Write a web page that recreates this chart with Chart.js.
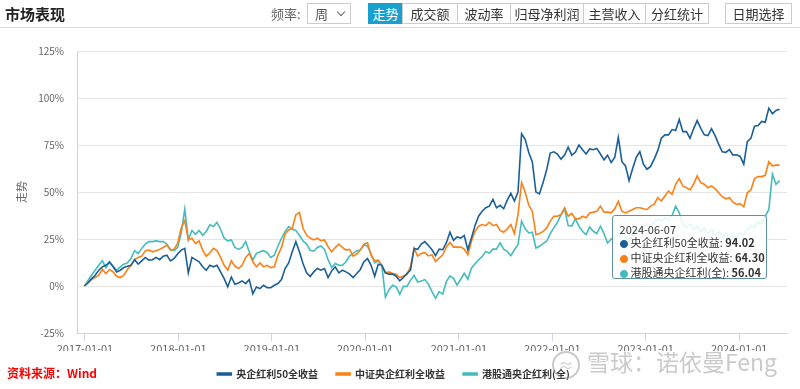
<!DOCTYPE html>
<html>
<head>
<meta charset="utf-8">
<script src="https://cdn.jsdelivr.net/npm/chart.js@4.4.0/dist/chart.umd.min.js"></script>
<style>
html,body{margin:0;padding:0;background:#fff;}
body{width:800px;height:389px;position:relative;overflow:hidden;font-family:"Noto Sans CJK SC","Noto Sans",sans-serif;}
#c{position:absolute;left:0;top:0;}
.hd{position:absolute;left:0;top:0;width:800px;height:27px;border-bottom:1px solid #dcdcdc;}
.ttl{position:absolute;left:5px;top:4px;font-size:15px;font-weight:bold;color:#222;line-height:20px;}
.lbl{position:absolute;left:271px;top:4px;font-size:13px;color:#666;line-height:20px;}
.sel{position:absolute;left:307px;top:3px;width:44px;height:21px;box-sizing:border-box;border:1px solid #ccc;font-size:13px;color:#555;line-height:19px;padding-left:7px;}
.sel i{position:absolute;left:30px;top:5px;width:5px;height:5px;border-right:1px solid #666;border-bottom:1px solid #666;transform:rotate(45deg);}
.btn{position:absolute;top:3px;height:21px;box-sizing:border-box;border:1px solid #ccc;font-size:13px;color:#333;line-height:19px;text-align:center;background:#fff;}
.btn.on{background:#1aa0cf;border-color:#1aa0cf;color:#fff;}
.src{position:absolute;left:7px;top:364px;font-size:12px;font-weight:bold;color:#f00;line-height:18px;}
.wm{position:absolute;left:552px;top:346px;height:30px;color:rgba(150,150,150,0.5);font-size:23px;line-height:30px;white-space:nowrap;}
.wm .ic{display:inline-block;width:24px;height:24px;border:2px solid rgba(150,150,150,0.5);border-radius:50%;vertical-align:middle;margin-right:7px;font-size:15px;line-height:23px;text-align:center;}
#tip{position:absolute;display:none;width:155px;height:64px;box-sizing:border-box;background:rgba(255,255,255,0.86);border:1px solid #5f8fa3;border-radius:3px;padding:7px 0 0 7px;font-size:11px;color:#333;line-height:12.6px;white-space:nowrap;}
#tip .row{margin-top:0.5px;}
#tip .dot{display:inline-block;width:7px;font-size:9px;margin:0 4px 0 0;}
</style>
</head>
<body>
<canvas id="c" width="800" height="389"></canvas>
<div class="hd">
  <div class="ttl">市场表现</div>
  <div class="lbl">频率:</div>
  <div class="sel">周<i></i></div>
  <div class="btn on" style="left:368px;width:35px;">走势</div>
  <div class="btn" style="left:402px;width:56px;">成交额</div>
  <div class="btn" style="left:457px;width:54px;">波动率</div>
  <div class="btn" style="left:510px;width:74px;">归母净利润</div>
  <div class="btn" style="left:583px;width:63px;">主营收入</div>
  <div class="btn" style="left:645px;width:64px;">分红统计</div>
  <div class="btn" style="left:725px;width:67px;">日期选择</div>
</div>
<div class="src">资料来源：Wind</div>
<div class="wm"><span class="ic">≈</span>雪球：诺依曼Feng</div>
<div id="tip"></div>
<script>
// 三条全收益曲线，两周取一个点（2016-12-30 起）
const seriesNames = ['央企红利50全收益', '中证央企红利全收益', '港股通央企红利(全)'];
const seriesColors = ['#1b5f97', '#fb8117', '#45bcbc'];
const startDate = '2016-12-30';
const stepDays = 14;
const tickLabels = ['2017-01-01','2018-01-01','2019-01-01','2020-01-01','2021-01-01','2022-01-01','2023-01-01','2024-01-01'];
const xMinDate = '2016-12-01';
const xMaxDate = '2024-07-06';

const yangqi50 = [
  0,1.6,3.9,5.7,8.4,10.2,11,12.7,10.2,7.5,8.4,9.8,10.5,11,14,11.6,13.4,15.2,13.8,14,
  15.2,14,15.9,16.4,13.4,14.6,17,19.1,20,7,15.2,14,12.9,10.2,8.4,11,10.2,11,7.5,3.9,
  -0.5,4.8,0.9,1.6,2.7,1.3,3.4,-4.1,-0.5,-1.4,0.4,-0.9,-0.9,0.4,1.3,3.4,9.3,12.3,18.2,23.6,
  18.2,12,7,5,7.5,9.3,8.4,9.3,4.5,8,10.2,7,8.4,7.5,6.3,4.5,6.6,8.8,12.9,14.6,
  11,5.2,11.6,11,7,6.3,6.3,5.2,2.7,4.5,6.6,8.4,20,19.5,22.3,23.6,21.5,19.3,16.1,19.6,
  19.3,22.9,28.6,24.3,26.1,25.5,26.8,19.3,25.5,32.1,37.1,39.8,41.6,42.5,46.1,41.6,42.9,41.1,45.7,49.3,
  45.2,50,81,78,71,66,50,49,55,61.8,70.7,71.4,70.2,67.5,69.6,73.8,69.6,71.1,75,72.5,
  70.2,72.9,72.5,73.2,70.2,67.1,69.6,65.7,68.4,79,66.1,63.9,56,62.5,68.4,71.4,64.8,62.1,63.6,67.5,
  72,78.6,80.4,80.4,83.2,82.7,88.6,82.1,82.1,78.6,83.6,88,83.9,80.4,80,83.6,80,75.5,71.4,71.1,
  72.5,69.6,69.8,68.9,64.8,76.8,78.6,85,85.4,87.5,87.1,94.6,91.6,93.4,94.02
];
const zzyq = [
  0,2,3.4,4.5,5.7,8.8,6.6,8.8,7.5,5.2,4.5,5.7,8.8,11,14,15.2,15.9,18.8,19.1,18.2,
  18.8,19.5,20.5,21.8,19.1,19.5,22.7,30.7,34.8,24.5,25.4,22.5,24,19.1,15.9,17.7,20,18.8,15.2,11,
  8.4,13.4,10.5,9.3,11,15.2,17.3,12.9,10.2,12.3,10.2,11,9.8,10.2,16.4,20.5,27.7,29.8,30.7,37.9,
  39.1,30.7,27.1,25.5,24.5,25.4,24.1,24.5,20.9,18.2,20.5,22.3,20.5,19.1,19.5,15.9,17,19.1,22.3,23,
  16.4,13.4,13.8,11,7,7.5,6.6,6.3,4.5,5.2,6.3,10.2,20,15.9,17.3,17.7,16,16.6,13,14.8,
  16.6,20.7,23.2,20.7,20.7,20.7,19.6,16.6,23.8,29.1,31.8,32.7,32.1,33.9,32.1,32.7,29.6,28.6,30.4,32.7,
  27.9,38,55,50,43,39.8,27.3,27.9,29,30.9,34.5,37.1,37.1,38,41.6,37.1,38.6,35.7,35.7,37.1,
  36.3,38.9,39.3,39.8,42.5,39.3,39.3,38.9,41.1,45,39.8,38.9,39.8,40.7,41.6,41.6,41.1,40.7,42.5,43.4,
  47,45.2,47.9,50.5,48.8,54.1,57.1,53.2,52.3,51.1,54.1,58.6,55,54.1,52.3,53.2,51.8,49.6,47.5,46.4,
  47,44.6,43.4,43.8,42.1,49.6,51.1,57.1,58.2,58.2,58.9,66.1,63.9,64.3,64.3
];
const ggtyq = [
  0,3,5.7,8.4,11,13.4,9.8,12.9,10.5,8.4,10.2,11.6,12.3,14.6,18.8,17.3,20,22.3,23.6,23.6,
  24,23.6,23.6,22.3,19.5,18.8,20.5,28,40.9,24.5,29.5,27.5,29.5,27,29,32.5,31.6,33.8,30.2,25.4,
  24,24.5,20.5,19.5,20.5,23.6,18.2,13.8,17.3,18.2,18.8,17.7,15.2,16.4,21.3,25.4,29,31.6,30.2,29.5,
  27,24,22.3,19,18.5,20.5,21.3,19.5,14,9.8,12,11,11,12.9,15.9,17.3,18.8,19.1,21.8,21.3,
  17,12.3,13.4,11,-5.9,-2,0.4,-0.5,-4.5,-0.2,-0.2,3,5.7,2.1,2.7,3.4,1,-3,-6.6,-3,
  -4.3,2.3,5.4,4.1,0.5,3.6,6.8,3.6,9.5,11.8,13.9,15.7,18.4,17.5,19.6,19.6,22.9,19.6,18.4,16.1,
  19.3,22,34.5,30.4,28.2,28.6,20.2,21.1,22.5,23.8,27.9,30.9,33.9,38,41,32.1,31.8,35.7,31.8,29.1,
  27.3,31.4,29.1,27.9,31.8,27.9,22.9,25,26.4,27,29,26,24,27,30,29,31,33,32,34,
  35.7,34.5,36.3,35,37.5,42.5,38.9,32.7,31,33,30,32,29,31,28,30,27,29,26,28,
  25,27,26,28,27,30,32,31,34,33,37,40.7,59.5,54.1,56.04
];

const DAY = 86400000;
const dayNum = s => Date.parse(s + 'T00:00:00Z') / DAY;
const fmtDay = n => new Date(Math.round(n) * DAY).toISOString().slice(0, 10);
const x0 = dayNum(startDate);
const dates = yangqi50.map((_, i) => fmtDay(x0 + i * stepDays));

const font = '"Noto Sans CJK SC","Noto Sans",sans-serif';
Chart.defaults.font.family = font;

function toPoints(vals){
  return vals.map((v, i) => ({ x: dayNum(dates[i]), y: v }));
}

function drawTip(context){
  const tip = context.tooltip;
  const box = document.getElementById('tip');
  if(!tip || tip.opacity === 0 || !tip.dataPoints){ box.style.display = 'none'; return; }
  let html = `<div>${dates[tip.dataPoints[0].dataIndex]}</div>`;
  tip.dataPoints.forEach(dp => {
    html += `<div class="row"><span class="dot" style="color:${seriesColors[dp.datasetIndex]}">●</span>${dp.dataset.label}: <b>${dp.raw.y.toFixed(2)}</b></div>`;
  });
  box.innerHTML = html;
  box.style.display = 'block';
  box.style.left = (tip.caretX - 13 - 155) + 'px';
  box.style.top = (context.chart.chartArea.top + 164) + 'px';
}

const allSeries = [yangqi50, zzyq, ggtyq];

const chart = new Chart(document.getElementById('c'), {
  type: 'line',
  data: {
    datasets: allSeries.map((vals, k) => ({
      label: seriesNames[k],
      data: toPoints(vals),
      borderColor: seriesColors[k],
      backgroundColor: seriesColors[k],
      borderWidth: 1.6,
      pointRadius: 0,
      pointHoverRadius: 0,
      tension: 0
    }))
  },
  options: {
    responsive: false,
    animation: false,
    layout: { padding: { top: 51, right: 13, left: 0, bottom: 0 } },
    interaction: { mode: 'index', intersect: false, axis: 'x' },
    plugins: {
      legend: {
        position: 'bottom',
        labels: {
          boxWidth: 14, boxHeight: 2, padding: 18, color: '#333',
          font: { size: 10, weight: 'bold', family: font }
        }
      },
      tooltip: { enabled: false, external: drawTip }
    },
    scales: {
      x: {
        type: 'linear',
        min: dayNum(xMinDate),
        max: dayNum(xMaxDate),
        afterBuildTicks: axis => { axis.ticks = tickLabels.map(t => ({ value: dayNum(t) })); },
        afterFit: s => { s.height = 18; },
        grid: { drawOnChartArea: false, drawTicks: true, tickLength: 8, color: '#ccd6eb' },
        border: { color: '#ccd6eb' },
        ticks: { color: '#666', font: { size: 11 }, padding: 1, maxRotation: 0, autoSkip: false, callback: v => fmtDay(v) }
      },
      y: {
        min: -25, max: 125,
        afterFit: s => { s.width = 77; },
        ticks: { stepSize: 25, color: '#666', font: { size: 10 }, padding: 13, callback: v => v + '%' },
        grid: { color: '#e6e6e6', drawTicks: false },
        border: { color: '#ccd6eb' },
        title: { display: true, text: '走势', color: '#666', font: { size: 11 }, padding: { top: 15, bottom: 0 } }
      }
    }
  }
});

const last = dates.length - 1;
chart.tooltip.setActiveElements([0, 1, 2].map(d => ({ datasetIndex: d, index: last })), { x: 0, y: 0 });
chart.update();
</script>
</body>
</html>
